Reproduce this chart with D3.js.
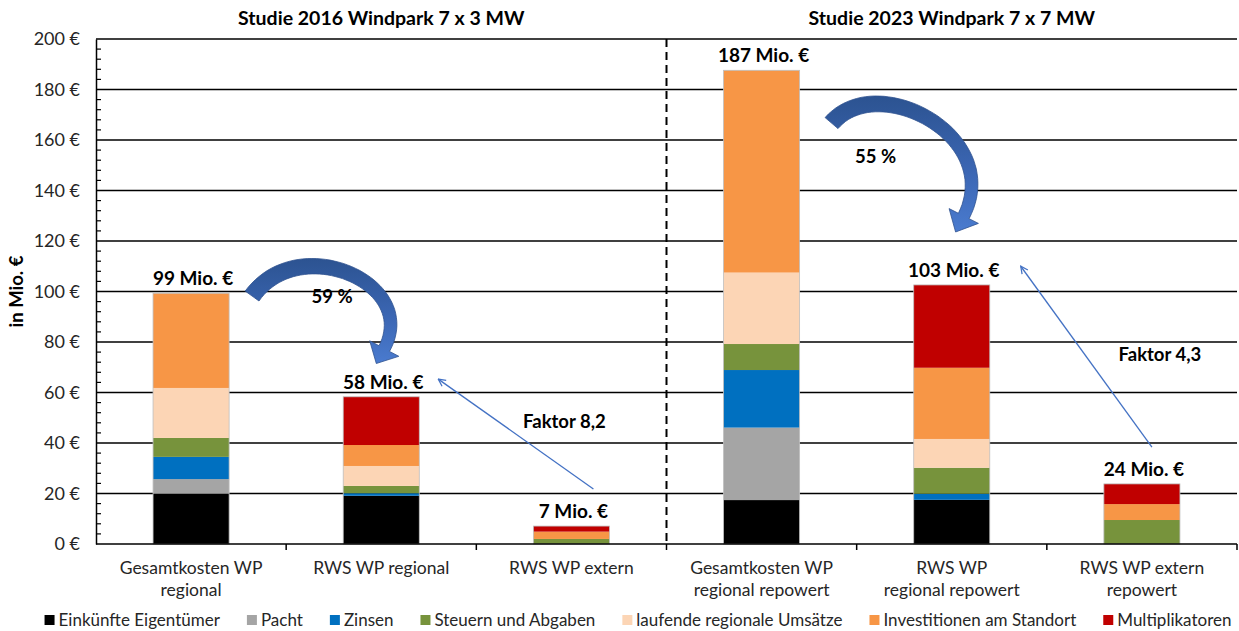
<!DOCTYPE html>
<html>
<head>
<meta charset="utf-8">
<script src="https://cdn.jsdelivr.net/npm/d3@7"></script>
<style>
  body { margin: 0; background: #fff; }
  svg { font-family: Lato, "Open Sans", sans-serif; }
</style>
</head>
<body>
<div id="chart"></div>
<script>
// categories and series (Mio. €)
var categories = ["Gesamtkosten WP|regional", "RWS WP regional", "RWS WP extern",
                  "Gesamtkosten WP|regional repowert", "RWS WP|regional repowert", "RWS WP extern|repowert"];
var einkuenfte      = [19.9, 19.1, 0,   17.4, 17.5, 0];
var pacht           = [5.8,  0,    0,   28.7, 0,    0];
var zinsen          = [8.8,  1.0,  0,   22.8, 2.4,  0];
var steuern         = [7.5,  2.9,  2.0, 10.3, 10.3, 9.5];
var laufende        = [19.8, 7.9,  0,   28.3, 11.4, 0];
var investitionen   = [37.5, 8.3,  2.9, 80.1, 28.2, 6.3];
var multiplikatoren = [0,    19.1, 2.2, 0,    32.8, 8.0];
var totalLabels = ["99 Mio. €", "58 Mio. €", "7 Mio. €", "187 Mio. €", "103 Mio. €", "24 Mio. €"];
var seriesNames = ["Einkünfte Eigentümer", "Pacht", "Zinsen", "Steuern und Abgaben",
                   "laufende regionale Umsätze", "Investitionen am Standort", "Multiplikatoren"];
var seriesColors = ["#000000", "#A5A5A5", "#0070C0", "#77933C", "#FCD5B5", "#F79646", "#C00000"];
var yTicks = [0, 20, 40, 60, 80, 100, 120, 140, 160, 180, 200];
var titles = ["Studie 2016 Windpark 7 x 3 MW", "Studie 2023 Windpark 7 x 7 MW"];

var width = 1239, height = 631;
var svg = d3.select('#chart').append('svg')
    .attr('width', width).attr('height', height);

var x = d3.scaleBand().domain(categories).range([96, 1237]).padding(0);
var y = d3.scaleLinear().domain([0, 200]).range([544, 39]);
var barW = x.bandwidth() * 0.4;
function cx(i) { return x(categories[i]) + x.bandwidth() / 2; }

// table for the stack
var allSeries = [einkuenfte, pacht, zinsen, steuern, laufende, investitionen, multiplikatoren];
var table = categories.map(function(c, i) {
    var row = { cat: c };
    seriesNames.forEach(function(s, k) { row[s] = allSeries[k][i]; });
    return row;
});
var stacked = d3.stack().keys(seriesNames)(table);
function total(i) { return d3.sum(allSeries, function(s) { return s[i]; }); }

// gridlines
svg.append('g').selectAll('line')
    .data(yTicks.slice(1))
    .enter().append('line')
    .attr('x1', 96).attr('x2', 1237)
    .attr('y1', function(d) { return y(d); }).attr('y2', function(d) { return y(d); })
    .attr('stroke', '#000').attr('stroke-width', 1.5);

// y axis
var yAxis = svg.append('g').attr('transform', 'translate(96,0)')
    .call(d3.axisLeft(y).tickValues(yTicks).tickSize(0).tickPadding(16)
        .tickFormat(function(d) { return d + ' €'; }));
yAxis.select('.domain').attr('stroke', '#000').attr('stroke-width', 1.5);
yAxis.selectAll('text').attr('font-size', 18).attr('fill', '#262626')
    .attr('font-family', 'Lato, sans-serif');
// minor ticks
svg.append('g').selectAll('line')
    .data(d3.range(0, 201, 4).filter(function(v) { return v % 20 !== 0; }))
    .enter().append('line')
    .attr('x1', 96).attr('x2', 101)
    .attr('y1', function(d) { return y(d); }).attr('y2', function(d) { return y(d); })
    .attr('stroke', '#000').attr('stroke-width', 1.2);

svg.append('text')
    .attr('transform', 'translate(23,' + y(100) + ') rotate(-90)')
    .attr('text-anchor', 'middle')
    .attr('font-size', 18.5).attr('font-weight', 'bold')
    .text('in Mio.  €');

// bars
svg.append('g').selectAll('g')
    .data(stacked)
    .enter().append('g')
    .attr('fill', function(d, k) { return seriesColors[k]; })
    .selectAll('rect')
    .data(function(d) { return d; })
    .enter().append('rect')
    .attr('x', function(d) { return x(d.data.cat) + (x.bandwidth() - barW) / 2; })
    .attr('width', barW)
    .attr('y', function(d) { return y(d[1]); })
    .attr('height', function(d) { return y(d[0]) - y(d[1]); });

// thin outline around each bar
svg.append('g').selectAll('rect')
    .data(table)
    .enter().append('rect')
    .attr('x', function(d) { return x(d.cat) + (x.bandwidth() - barW) / 2; })
    .attr('width', barW)
    .attr('y', function(d, i) { return y(total(i)); })
    .attr('height', function(d, i) { return y(0) - y(total(i)); })
    .attr('fill', 'none').attr('stroke', '#BFBFBF').attr('stroke-width', 0.8);

// x axis
var xAxis = svg.append('g').attr('transform', 'translate(0,544)');
xAxis.append('line').attr('x1', 96).attr('x2', 1237).attr('stroke', '#000').attr('stroke-width', 1.5);
xAxis.selectAll('.tk')
    .data(categories)
    .enter().append('line')
    .attr('x1', function(d) { return x(d) + x.bandwidth(); })
    .attr('x2', function(d) { return x(d) + x.bandwidth(); })
    .attr('y1', 0).attr('y2', 6)
    .attr('stroke', '#000').attr('stroke-width', 1.5);
xAxis.selectAll('text')
    .data(categories)
    .enter().append('text')
    .attr('x', function(d, i) { return cx(i); })
    .attr('y', 30)
    .attr('text-anchor', 'middle')
    .attr('font-size', 17.5).attr('fill', '#262626')
    .each(function(d) {
        var t = d3.select(this);
        d.split('|').forEach(function(line, j) {
            t.append('tspan').attr('x', t.attr('x')).attr('dy', j === 0 ? 0 : 22).text(line);
        });
    });

// dashed separator between studies
svg.append('line')
    .attr('x1', x(categories[3])).attr('x2', x(categories[3]))
    .attr('y1', y(200)).attr('y2', y(0))
    .attr('stroke', '#000').attr('stroke-width', 2)
    .attr('stroke-dasharray', '8,5');

// titles
svg.selectAll('.title')
    .data(titles)
    .enter().append('text')
    .attr('x', function(d, i) { return cx(i * 3 + 1); })
    .attr('y', 25)
    .attr('text-anchor', 'middle')
    .attr('font-size', 19.5).attr('font-weight', 'bold')
    .text(function(d) { return d; });

// totals
svg.append('g').selectAll('text')
    .data(totalLabels)
    .enter().append('text')
    .attr('x', function(d, i) { return cx(i) + 2; })
    .attr('y', function(d, i) { return y(total(i)) - 8; })
    .attr('text-anchor', 'middle')
    .attr('font-size', 19).attr('font-weight', 'bold')
    .text(function(d) { return d; });

// curved block arrows
var defs = svg.append('defs');
var grad = defs.append('linearGradient').attr('id', 'arrowGrad')
    .attr('x1', 0).attr('y1', 0).attr('x2', 0).attr('y2', 1);
grad.append('stop').attr('offset', '0%').attr('stop-color', '#2C5391');
grad.append('stop').attr('offset', '55%').attr('stop-color', '#3B66B3');
grad.append('stop').attr('offset', '100%').attr('stop-color', '#4A7BCF');

function curvedArrow(p0, d0, L0, p3, d3, L3, w0, w1, headW, headL) {
    var p1 = [p0[0] + d0[0] * L0, p0[1] + d0[1] * L0];
    var p2 = [p3[0] - d3[0] * L3, p3[1] - d3[1] * L3];
    var N = 50, left = [], right = [];
    for (var k = 0; k <= N; k++) {
        var t = k / N, u = 1 - t;
        var px = u*u*u*p0[0] + 3*u*u*t*p1[0] + 3*u*t*t*p2[0] + t*t*t*p3[0];
        var py = u*u*u*p0[1] + 3*u*u*t*p1[1] + 3*u*t*t*p2[1] + t*t*t*p3[1];
        var tx = 3*u*u*(p1[0]-p0[0]) + 6*u*t*(p2[0]-p1[0]) + 3*t*t*(p3[0]-p2[0]);
        var ty = 3*u*u*(p1[1]-p0[1]) + 6*u*t*(p2[1]-p1[1]) + 3*t*t*(p3[1]-p2[1]);
        var len = Math.sqrt(tx*tx + ty*ty);
        var nx = -ty / len, ny = tx / len;
        var w = (w0 + (w1 - w0) * t) / 2;
        left.push([px + nx * w, py + ny * w]);
        right.push([px - nx * w, py - ny * w]);
    }
    var n3 = [-d3[1], d3[0]];
    var pts = left.concat([
        [p3[0] + n3[0] * headW / 2, p3[1] + n3[1] * headW / 2],
        [p3[0] + d3[0] * headL, p3[1] + d3[1] * headL],
        [p3[0] - n3[0] * headW / 2, p3[1] - n3[1] * headW / 2]
    ]).concat(right.reverse());
    var dStr = 'M' + pts.map(function(p) { return p[0].toFixed(1) + ',' + p[1].toFixed(1); }).join('L') + 'Z';
    svg.append('path')
        .attr('d', dStr)
        .attr('fill', 'url(#arrowGrad)')
        .attr('stroke', '#2F528F').attr('stroke-width', 0.8);
}
curvedArrow([cx(0) + 61, y(98.2)], [0.58, -0.81], 80,
            [cx(1) + 3, y(77.4)], [-0.47, 0.88], 75, 17, 12, 33, 17);
curvedArrow([cx(3) + 70, y(166.7)], [0.65, -0.76], 70,
            [cx(4) + 12, y(129.9)], [-0.45, 0.89], 90, 17, 12, 33, 18);

// percentages
svg.append('text').attr('x', cx(0) + 141).attr('y', y(98.2) + 7)
    .attr('text-anchor', 'middle').attr('font-size', 18.5).attr('font-weight', 'bold').text('59 %');
svg.append('text').attr('x', cx(3) + 114).attr('y', y(153.7) + 7)
    .attr('text-anchor', 'middle').attr('font-size', 18.5).attr('font-weight', 'bold').text('55 %');

// thin arrows with factor
defs.append('marker').attr('id', 'openHead')
    .attr('viewBox', '0 0 10 10').attr('refX', 9).attr('refY', 5)
    .attr('markerWidth', 9).attr('markerHeight', 9).attr('orient', 'auto')
    .attr('markerUnits', 'userSpaceOnUse')
    .append('path').attr('d', 'M1,1 L9,5 L1,9')
    .attr('fill', 'none').attr('stroke', '#4472C4').attr('stroke-width', 1.4);

svg.append('line')
    .attr('x1', cx(2) + 22).attr('y1', y(21.8))
    .attr('x2', cx(1) + 57).attr('y2', y(65.3))
    .attr('stroke', '#4472C4').attr('stroke-width', 1.3)
    .attr('marker-end', 'url(#openHead)');
svg.append('line')
    .attr('x1', cx(5) + 10).attr('y1', y(38.4))
    .attr('x2', cx(4) + 69).attr('y2', y(110))
    .attr('stroke', '#4472C4').attr('stroke-width', 1.3)
    .attr('marker-end', 'url(#openHead)');

svg.append('text').attr('x', cx(2) - 7).attr('y', y(48.7) + 7)
    .attr('text-anchor', 'middle').attr('font-size', 18.5).attr('font-weight', 'bold').text('Faktor 8,2');
svg.append('text').attr('x', cx(5) + 18).attr('y', y(75.2) + 7)
    .attr('text-anchor', 'middle').attr('font-size', 18.5).attr('font-weight', 'bold').text('Faktor 4,3');

// legend: items laid out one after another, centred under the chart
var legend = svg.append('g').attr('transform', 'translate(0,615)');
var items = legend.selectAll('g')
    .data(seriesNames)
    .enter().append('g');
items.append('rect').attr('width', 10).attr('height', 10)
    .attr('fill', function(d, i) { return seriesColors[i]; });
items.append('text').attr('x', 14).attr('y', 11)
    .attr('font-size', 17).attr('fill', '#262626')
    .text(function(d) { return d; });
var gap = 27, pos = 0, offsets = [];
items.each(function() {
    offsets.push(pos);
    pos += 14 + d3.select(this).select('text').node().getComputedTextLength() + gap;
});
var startX = 638 - (pos - gap) / 2;
items.attr('transform', function(d, i) { return 'translate(' + (startX + offsets[i]) + ',0)'; });
</script>
</body>
</html>
